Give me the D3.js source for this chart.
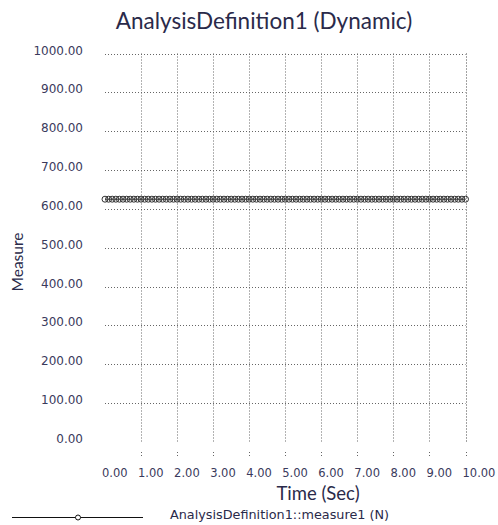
<!DOCTYPE html>
<html><head><meta charset="utf-8">
<script src="https://cdn.jsdelivr.net/npm/d3@7"></script>
<style>body{margin:0;background:#fff}svg{display:block}</style>
</head><body>
<svg id="c" width="498" height="525"></svg>
<script>
const title = "AnalysisDefinition1 (Dynamic)";
const xLabel = "Time (Sec)";
const yLabel = "Measure";
const seriesName = "AnalysisDefinition1::measure1 (N)";
const xTicks = [0,1,2,3,4,5,6,7,8,9,10];
const yTicks = [0,100,200,300,400,500,600,700,800,900,1000];
const time = [0,0.1,0.2,0.3,0.4,0.5,0.6,0.7,0.8,0.9,1,1.1,1.2,1.3,1.4,1.5,1.6,1.7,1.8,1.9,2,2.1,2.2,2.3,2.4,2.5,2.6,2.7,2.8,2.9,3,3.1,3.2,3.3,3.4,3.5,3.6,3.7,3.8,3.9,4,4.1,4.2,4.3,4.4,4.5,4.6,4.7,4.8,4.9,5,5.1,5.2,5.3,5.4,5.5,5.6,5.7,5.8,5.9,6,6.1,6.2,6.3,6.4,6.5,6.6,6.7,6.8,6.9,7,7.1,7.2,7.3,7.4,7.5,7.6,7.7,7.8,7.9,8,8.1,8.2,8.3,8.4,8.5,8.6,8.7,8.8,8.9,9,9.1,9.2,9.3,9.4,9.5,9.6,9.7,9.8,9.9,10];
const measure = [625,625,625,625,625,625,625,625,625,625,625,625,625,625,625,625,625,625,625,625,625,625,625,625,625,625,625,625,625,625,625,625,625,625,625,625,625,625,625,625,625,625,625,625,625,625,625,625,625,625,625,625,625,625,625,625,625,625,625,625,625,625,625,625,625,625,625,625,625,625,625,625,625,625,625,625,625,625,625,625,625,625,625,625,625,625,625,625,625,625,625,625,625,625,625,625,625,625,625,625,625];

const svg = d3.select("#c");
const x = d3.scaleLinear().domain([0,10]).range([105,465.5]);
const y = d3.scaleLinear().domain([0,1000]).range([442,53.5]);
const txt = "#3a3a5c";
const grid = "#666";

svg.append("text").attr("x",264).attr("y",29).attr("text-anchor","middle")
  .attr("font-family","Lato, 'Open Sans', sans-serif").attr("font-size",22.5).attr("fill","#2a2a4a").text(title);

// horizontal grid
const g = svg.append("g");
g.selectAll("line.h").data(yTicks.filter(d=>d>0)).join("line")
  .attr("x1",x(0)).attr("x2",x(10)).attr("y1",d=>Math.round(y(d))+0.5).attr("y2",d=>Math.round(y(d))+0.5)
  .attr("stroke",grid).attr("stroke-width",1).attr("stroke-dasharray","1,2");
// vertical grid
g.selectAll("line.v").data(xTicks.filter(d=>d>0)).join("line")
  .attr("x1",d=>Math.round(x(d))+0.5).attr("x2",d=>Math.round(x(d))+0.5).attr("y1",y(1000)).attr("y2",y(0))
  .attr("stroke",d=>d===10?"#444":grid).attr("stroke-width",1).attr("stroke-dasharray","1,2");
// small ticks below
g.selectAll("line.t").data(xTicks.filter(d=>d>0)).join("line")
  .attr("x1",d=>Math.round(x(d))+0.5).attr("x2",d=>Math.round(x(d))+0.5).attr("y1",452).attr("y2",458)
  .attr("stroke",grid).attr("stroke-width",1).attr("stroke-dasharray","1,2");

// y tick labels
svg.selectAll("text.yt").data(yTicks).join("text")
  .attr("x",83).attr("y",d=>y(d)+1).attr("text-anchor","end")
  .attr("font-family","'DejaVu Sans', Verdana, sans-serif").attr("font-size",12).attr("fill",txt)
  .text(d=>d3.format(".2f")(d));
// x tick labels
svg.selectAll("text.xt").data(xTicks).join("text")
  .attr("x",d=>x(d)-3).attr("y",477).attr("text-anchor","start")
  .attr("font-family","'DejaVu Sans', Verdana, sans-serif").attr("font-size",11.5).attr("fill",txt)
  .text(d=>d3.format(".2f")(d));

// axis titles
svg.append("text").attr("transform","translate(23,262) rotate(-90)").attr("text-anchor","middle")
  .attr("font-family","Lato, 'Open Sans', sans-serif").attr("font-size",15.5).attr("fill","#2a2a4a").text(yLabel);
svg.append("text").attr("x",318).attr("y",500).attr("text-anchor","middle")
  .attr("font-family","Lato, 'Open Sans', sans-serif").attr("font-size",18.5).attr("fill","#2a2a4a").text(xLabel);

// series
const pts = time.map((t,i)=>[t,measure[i]]);
svg.append("path").datum(pts).attr("d",d3.line().x(d=>x(d[0])).y(d=>y(d[1])))
  .attr("fill","none").attr("stroke","#222").attr("stroke-width",1);
svg.selectAll("circle.m").data(pts).join("circle")
  .attr("cx",d=>x(d[0])).attr("cy",d=>y(d[1])).attr("r",3)
  .attr("fill","none").attr("stroke","#333").attr("stroke-width",1);

// legend
svg.append("line").attr("x1",12).attr("x2",143).attr("y1",517.5).attr("y2",517.5).attr("stroke","#111").attr("stroke-width",1);
svg.append("circle").attr("cx",78).attr("cy",517.5).attr("r",2.5).attr("fill","#fff").attr("stroke","#111").attr("stroke-width",1);
svg.append("text").attr("x",170).attr("y",519).attr("font-family","'DejaVu Sans', Verdana, sans-serif")
  .attr("font-size",12.8).attr("fill","#2a2a4a").text(seriesName);
</script>
</body></html>
